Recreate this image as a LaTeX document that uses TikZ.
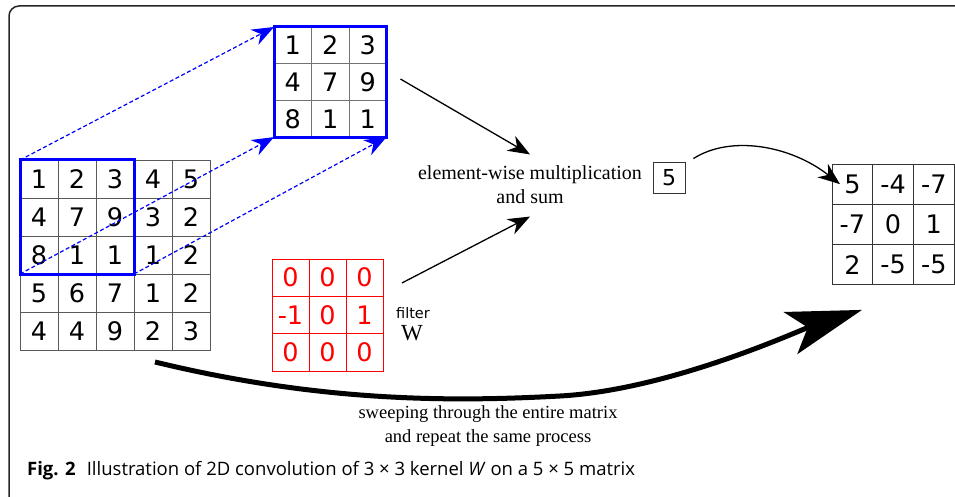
\documentclass[tikz,border=0pt]{standalone}
\usepackage{fontspec}
\usetikzlibrary{arrows.meta}
\newfontfamily\cellfont{DejaVu Sans}
\newfontfamily\romanfont{Liberation Serif}
\newfontfamily\capfont{Open Sans}

\begin{document}
\begin{tikzpicture}[x=1pt,y=-1pt,
  cellbase/.style={inner sep=0pt, outer sep=0pt,
    font=\cellfont\fontsize{25.5}{25.5}\selectfont},
  cellA/.style={cellbase, draw=black!65, line width=0.9pt,
    minimum width=38pt, minimum height=38pt},
  cellB/.style={cellbase, draw=black!55, line width=0.8pt,
    minimum width=37.5pt, minimum height=36.7pt},
  cellF/.style={cellbase, draw=red, text=red, line width=0.7pt,
    minimum width=37pt, minimum height=37.3pt},
  cellO/.style={cellbase, draw=black!80, line width=0.9pt,
    minimum width=40.7pt, minimum height=40.3pt},
  copyarrow/.style={blue, line width=1.2pt, dash pattern=on 4pt off 2.5pt,
    -{Stealth[length=22pt,width=17pt,inset=7pt]}},
  flowarrow/.style={black, line width=1.3pt,
    -{Stealth[length=22pt,width=17pt,inset=7pt]}},
  serif/.style={font=\romanfont\fontsize{20}{24}\selectfont, align=center},
]
\useasboundingbox (0,0) rectangle (955,497);

% outer frame (top and left edges)
\draw[black!85, line width=1.5pt, rounded corners=10pt]
  (9,510) -- (9,6) -- (970,6);

% input matrix 5x5
\foreach \vals [count=\r] in {{1,2,3,4,5},{4,7,9,3,2},{8,1,1,1,2},{5,6,7,1,2},{4,4,9,2,3}}
  \foreach \v [count=\c] in \vals
    \node[cellA] (A-\r-\c) at ({20+(\c-0.5)*38},{160+(\r-0.5)*38}) {\v};
\draw[blue, line width=3pt] (A-1-1.north west) rectangle (A-3-3.south east);

% extracted 3x3 patch
\foreach \vals [count=\r] in {{1,2,3},{4,7,9},{8,1,1}}
  \foreach \v [count=\c] in \vals
    \node[cellB] (B-\r-\c) at ({274+(\c-0.5)*37.5},{27+(\r-0.5)*36.7}) {\v};
\draw[blue, line width=3pt] (B-1-1.north west) rectangle (B-3-3.south east);

% filter W
\foreach \vals [count=\r] in {{0,0,0},{-1,0,1},{0,0,0}}
  \foreach \v [count=\c] in \vals
    \node[cellF] (F-\r-\c) at ({272+(\c-0.5)*37},{259+(\r-0.5)*37.3}) {\v};
\node[font=\cellfont\fontsize{14.5}{15}\selectfont] (flt) at (413,313) {filter};
\node[font=\romanfont\fontsize{23}{24}\selectfont] (W) at (412,333) {W};

% output matrix
\foreach \vals [count=\r] in {{5,-4,-7},{-7,0,1},{2,-5,-5}}
  \foreach \v [count=\c] in \vals
    \node[cellO] (O-\r-\c) at ({832+(\c-0.5)*40.7},{164+(\r-0.5)*40.3}) {\v};

% operation label and single result
\node[serif] (ew) at (530,185) {element-wise multiplication\\and sum};
\node[draw=black!80, line width=0.8pt, minimum width=32pt, minimum height=31pt,
  inner sep=0pt, font=\cellfont\fontsize{22}{22}\selectfont] (five) at (669,177.5) {5};

% sweep label
\node[font=\romanfont\fontsize{18.5}{23.5}\selectfont, align=center] (sw) at (488,426)
  {sweeping through the entire matrix\\and repeat the same process};

% caption
\node[anchor=west, inner sep=0pt, font=\capfont\fontsize{18.5}{20}\selectfont] (cap) at (27,471)
  {\textbf{Fig. 2}\hspace{0.6em}Illustration of 2D convolution of 3 × 3 kernel \textit{W} on a 5 × 5 matrix};

% patch copy arrows
\draw[copyarrow] (A-1-1.north west) -- (B-1-1.north west);
\draw[copyarrow] (A-3-1.south west) -- (B-3-1.south west);
\draw[copyarrow] (A-3-3.south east) -- (B-3-3.south east);

% patch and filter feed the operation
\draw[flowarrow] ([shift={(14,-3)}]B-2-3.east) -- ([shift={(0,-8)}]ew.north);
\draw[flowarrow] ([shift={(19,-32)}]F-2-3.east) -- ([shift={(0,9)}]ew.south);

% result goes to first output cell
\draw[flowarrow] ([shift={(8,-3)}]five.north east)
  .. controls (730,135) and (790,145) .. ([xshift=8pt]O-1-1.west);

% sweep arrow
\draw[line width=5pt, -{Stealth[length=75pt,width=44pt,inset=18pt]}]
  ([shift={(40,12)}]A-5-3.south) .. controls (320,402) and (450,402) .. (560,396)
  .. controls (670,390) and (800,330) .. ([shift={(30,25)}]O-3-1.south west);
\end{tikzpicture}
\end{document}
